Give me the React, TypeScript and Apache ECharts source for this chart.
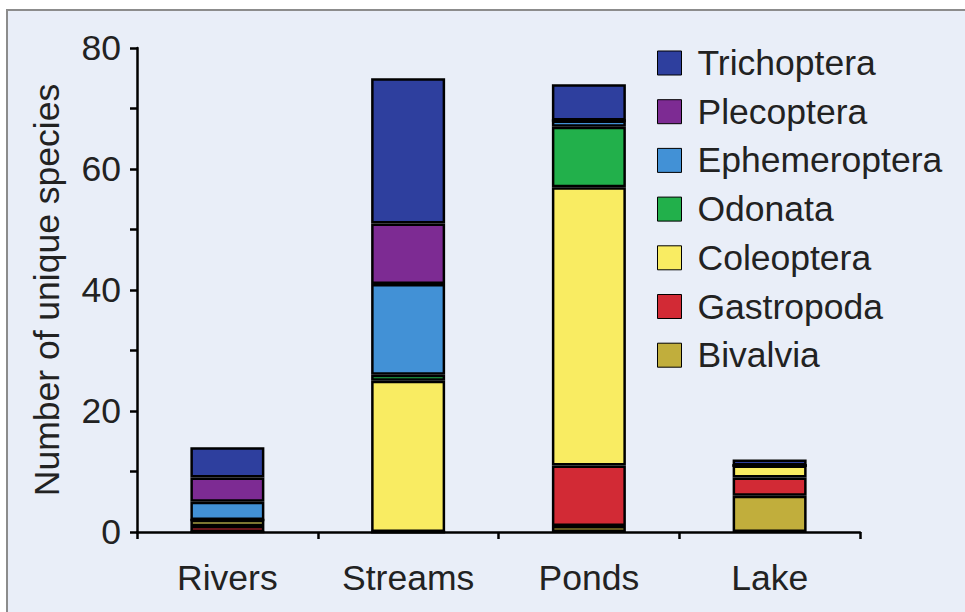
import React, { useEffect, useRef } from "react";
import * as echarts from "echarts";

const categories = ["Rivers", "Streams", "Ponds", "Lake"];
const seriesNames = ["Bivalvia", "Gastropoda", "Coleoptera", "Odonata", "Ephemeroptera", "Plecoptera", "Trichoptera"];
const bivalvia = [0, 0, 1, 6];
const gastropoda = [1, 0, 10, 3];
const coleoptera = [1, 25, 46, 2];
const odonata = [0, 1, 10, 0];
const ephemeroptera = [3, 15, 1, 0];
const plecoptera = [4, 10, 0, 0];
const trichoptera = [5, 24, 6, 1];
const legendOrder = ["Trichoptera", "Plecoptera", "Ephemeroptera", "Odonata", "Coleoptera", "Gastropoda", "Bivalvia"];
const colors = ["#c1ae3c", "#d22a35", "#f9ec62", "#22b04b", "#4291d6", "#7d2b93", "#2e3f9e"];
const yTicks = [0, 20, 40, 60, 80];

const FONT = "Liberation Sans, Arial, sans-serif";
const FS = 35.5;

export default function App() {
  const ref = useRef<HTMLDivElement>(null);
  useEffect(() => {
    if (!ref.current) return;
    const chart = echarts.init(ref.current, undefined, { renderer: "svg" });
    const values = [bivalvia, gastropoda, coleoptera, odonata, ephemeroptera, plecoptera, trichoptera];
    chart.setOption({
      animation: false,
      backgroundColor: "#ffffff",
      graphic: [
        {
          type: "rect",
          z: -10,
          silent: true,
          shape: { x: 7, y: 10, width: 980, height: 620 },
          style: { fill: "#e9eef8", stroke: "#8c8c8c", lineWidth: 2 },
        },
      ],
      grid: { left: 137, right: 105, top: 48, bottom: 80, containLabel: false },
      legend: {
        orient: "vertical",
        left: 652,
        top: 40,
        data: legendOrder,
        icon: "rect",
        itemWidth: 24,
        itemHeight: 24,
        itemGap: 12.7,
        itemStyle: { borderWidth: 1 },
        textStyle: { fontFamily: FONT, fontSize: FS, color: "#222", lineHeight: 36, padding: [0, 0, 0, 11] },
      },
      xAxis: {
        type: "category",
        data: categories,
        axisLine: { lineStyle: { color: "#000", width: 2.5 } },
        axisTick: { show: true, length: 7, lineStyle: { color: "#000", width: 2.5 } },
        axisLabel: { fontFamily: FONT, fontSize: FS, color: "#222", margin: 28 },
      },
      yAxis: {
        type: "value",
        min: 0,
        max: 80,
        interval: 10,
        name: "Number of unique species",
        nameLocation: "middle",
        nameRotate: 90,
        nameGap: 72,
        nameTextStyle: { fontFamily: FONT, fontSize: FS, color: "#222" },
        splitLine: { show: false },
        axisLine: { show: true, lineStyle: { color: "#000", width: 2.5 } },
        axisTick: { show: true, length: 7, lineStyle: { color: "#000", width: 2.5 } },
        axisLabel: {
          fontFamily: FONT,
          fontSize: FS,
          color: "#222",
          margin: 16,
          formatter: (v: number) => (yTicks.includes(v) ? String(v) : ""),
        },
      },
      series: seriesNames.map((name, i) => ({
        name,
        type: "bar",
        stack: "total",
        data: values[i],
        barWidth: 74,
        itemStyle: { color: colors[i], borderColor: "#000", borderWidth: 2.5 },
      })),
    });
    return () => chart.dispose();
  }, []);
  return (
    <div
      ref={ref}
      style={{ position: "fixed", left: 0, top: 0, width: 965, height: 612 }}
    />
  );
}
